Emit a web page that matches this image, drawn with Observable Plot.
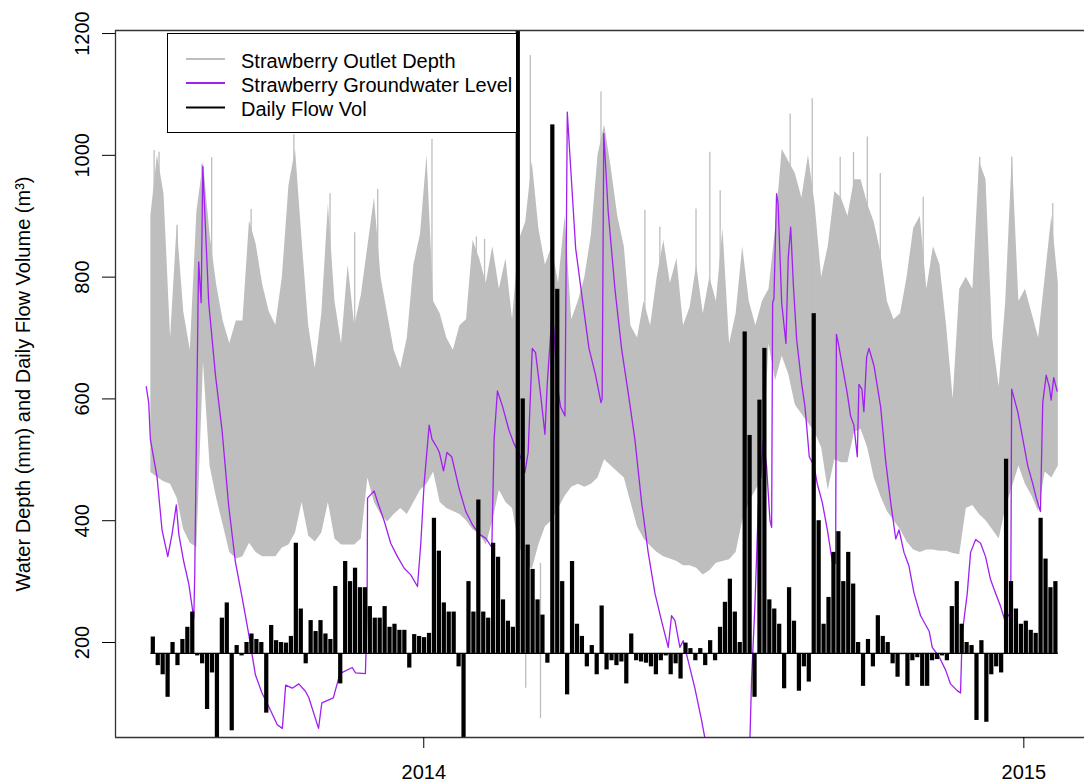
<!DOCTYPE html>
<html><head><meta charset="utf-8">
<script src="https://cdn.jsdelivr.net/npm/d3@7"></script>
<script src="https://cdn.jsdelivr.net/npm/@observablehq/plot@0.6"></script>
<style>
body{margin:0;background:#fff;font-family:"Liberation Sans",Arial,sans-serif;}
#wrap{position:relative;width:1084px;height:784px;overflow:hidden;}
#legend{position:absolute;left:167px;top:33px;width:350px;height:100px;background:#fff;border:1px solid #000;box-sizing:border-box;}
#legend svg{display:block;}
</style></head><body>
<div id="wrap"><div id="chart"></div><div id="legend"></div></div>
<script>
// ---- axis settings (days relative to 2014-01-01) ----
const xStartDay = -187.5, xEndDay = 401.9;
const yDomain = [44, 1205];
const yTicks = [200, 400, 600, 800, 1000, 1200];
const xTickYears = [2014, 2015];
const yTitle = "Water Depth (mm) and Daily Flow Volume (m³)";
const seriesNames = ["Strawberry Outlet Depth", "Strawberry Groundwater Level", "Daily Flow Vol"];
const seriesColors = ["#BEBEBE", "#A020F0", "#000000"];

// ---- Strawberry Outlet Depth: envelope sampled every 4 days from day -166 ----
const grayStartDay = -166, grayStepDays = 4;
const grayLow = [
 479,471,464,460,437,385,363,356,661,490,437,393,348,337,341,363,348,341,341,341,
 355,360,380,430,375,365,380,430,370,360,360,360,370,470,430,410,398,410,420,410,430,450,460,480,
 430,420,415,410,400,385,378,360,400,450,430,420,360,330,320,360,390,400,420,440,455,460,455,460,470,
 500,490,480,470,430,390,370,358,348,341,337,333,326,326,322,311,318,330,333,336,348,400,430,450,470,
 690,630,670,640,590,575,560,545,520,450,500,495,495,545,550,520,470,440,415,400,385,365,352,348,
 352,352,350,350,346,344,420,425,410,400,385,370,420,455,490,460,440,415,480,470,490];
const grayHigh = [
 900,1000,937,700,885,743,680,907,989,870,788,728,691,728,728,892,855,788,743,721,
 800,950,1010,860,720,650,740,920,760,690,820,720,770,850,930,800,740,680,650,700,820,870,1000,760,
 740,700,680,720,730,860,830,790,850,780,830,730,860,890,990,880,820,850,790,900,730,760,800,870,1000,
 1050,980,900,850,720,700,760,720,800,860,790,830,720,750,820,740,800,760,880,690,740,850,760,720,760,
 780,880,1010,990,970,930,1000,920,800,850,940,930,900,960,960,920,890,840,760,730,740,800,880,900,
 780,850,820,720,600,780,800,780,990,960,700,620,760,1000,760,780,740,700,800,900,790];
// isolated thin excursions of the outlet depth
const spikeDays = [-164,-161,-150,-135,-129,-105,-79,-57,-42,-28,5,32,37,64.8,107.8,134.5,143.6,165.6,174,180.3,222.9,236.3,253.3,261.4,269.8,277.7,303.8,338.2,357.7,382.6,62,71];
const spikeFrom = [600,600,600,700,600,600,600,600,600,600,600,600,600,600,700,600,600,600,600,600,700,700,700,700,700,700,600,600,600,600,330,330];
const spikeTo   = [1008,1005,885,985,996,911,1034,937,873,944,1026,866,862,1164,1104,910,882,912,1005,942,1068,1093,997,1005,1030,970,931,997,997,921,125,75];

// ---- Strawberry Groundwater Level ----
const gwDays = [-168.8,-167.3,-166.3,-162.2,-159.2,-155.7,-153.1,-150.5,-149,-146,-142.9,-139.9,-139.3,-138.5,-137.3,-136.9,-135.4,-134.4,-133.2,-130.8,
 -126.7,-122.7,-118.6,-114.6,-110.5,-106.5,-102.4,-98.4,-94.3,-89.1,-86,-84,-80,-76,-72,-70,-64,-62,-55,-51,-43.5,-41.5,-35.5,-34.5,-34.2,-30.2,-28,-24.1,-20.1,-16,
 -11.9,-7.9,-3.8,-1.8,0.2,3.3,5,8.3,9.5,12,14.1,17,21.6,25.6,29.7,33.7,37.8,41.4,42.8,44.8,48,51.8,54.8,58.9,61.5,63.5,66,68,71,73.7,
 75.1,77.7,79,81.2,83.2,85.9,87.3,89.3,92.4,96.4,100.5,104.5,107.8,108.5,109.5,112.2,116.3,120.3,124.4,128.4,132.5,136.5,140.6,144.6,148.7,150.7,152.8,155.8,157.8,160.9,
 164.9,169,175,196,198.4,199.4,201.4,203.5,206.5,208.5,210.6,211.6,212.2,213,214.6,215.5,217.7,220.3,221.7,223.2,224.8,226.8,229.9,231.9,234.5,237.4,239.4,242.4,245.5,248.5,
 250.5,251,252.2,257.6,259.6,261.6,263.7,264.7,266.5,267.7,269.4,270.8,273.9,277.9,281,284,287.1,289.1,292.1,295.1,298.2,302.2,307.5,309.3,313.4,317.4,320.4,324.5,326.5,327.5,
 330.6,332.6,335.7,338.7,341.7,344.8,347.8,350.9,353.5,357,357.6,361.3,364.4,367.4,370.5,372.5,375.1,376.5,378.6,380.5,381.6,383.2,385.2];
const gwLevel = [620,594,534,471,385,341,378,426,378,333,296,240,311,490,758,825,758,982,907,758,
 639,549,423,333,274,214,147,117,95,65,59,130,125,132,120,110,59,101,109,149,159,150,149,241,437,449,430,400,363,341,
 322,311,292,363,460,557,534,519,512,482,512,505,452,415,393,378,371,356,534,613,587,549,527,505,479,512,683,676,609,542,
 624,728,721,624,587,572,1071,982,847,765,683,639,594,600,1036,907,780,683,609,534,430,348,281,236,192,244,236,192,203,169,
 125,72,-15,-15,41,140,259,423,534,490,400,389,758,765,937,922,758,691,832,882,788,698,624,587,505,490,460,430,385,333,
 330,706,691,609,572,557,505,624,616,579,669,683,654,587,497,430,370,385,348,326,281,244,218,192,177,155,132,121,117,214,
 281,348,369,363,341,303,281,259,236,250,616,579,534,490,460,438,415,594,639,620,598,635,613];

// ---- Daily Flow Vol: one value every 3 days from day -166, drawn from its baseline ----
const flowBase = 182;
const flowStartDay = -166, flowStepDays = 3;
const flowVol = [
 209,162,147,110,200,162,205,225,250,178,165,90,150,44,240,265,55,195,178,200,214,205,200,84,228,203,
 200,199,210,363,255,165,236,218,236,214,205,292,132,333,300,322,290,290,259,240,240,259,225,230,220,220,158,213,210,208,215,404,350,
 265,250,250,160,44,300,250,434,250,240,363,340,270,235,225,1250,600,360,320,270,245,166,1050,780,300,114,333,230,210,160,195,147,260,
 155,170,162,168,132,214,170,168,166,160,147,170,178,147,165,140,199,190,170,190,162,203,170,225,266,304,250,200,710,540,110,598,683,
 270,255,230,124,290,235,120,160,135,740,400,230,274,348,382,300,348,296,200,128,205,160,244,210,200,165,143,180,128,170,175,128,
 128,170,172,178,170,259,300,230,200,195,72,203,69,147,160,150,501,300,255,230,235,220,215,404,337,290,300];

// ---- build tables ----
const T0 = Date.UTC(2014, 0, 1), DAY = 864e5;
const toDate = d => new Date(T0 + d * DAY);
const grayTable = grayLow.map((lo, i) => ({date: toDate(grayStartDay + i * grayStepDays), low: lo, high: grayHigh[i]}));
const spikeTable = spikeDays.map((d, i) => ({date: toDate(d), from: spikeFrom[i], to: spikeTo[i]}));
const gwTable = gwDays.map((d, i) => ({date: toDate(d), v: gwLevel[i]}));
const flowTable = flowVol.map((v, i) => {
  const d = flowStartDay + i * flowStepDays;
  return {date: toDate(d), date2: toDate(d + flowStepDays), base: flowBase, v};
});
const flowFirst = toDate(flowStartDay), flowLast = toDate(flowStartDay + flowVol.length * flowStepDays);
const xTicks = xTickYears.map(y => new Date(Date.UTC(y, 0, 1)));
const FONT = "Liberation Sans, Arial, Helvetica, sans-serif";

const chart = Plot.plot({
  width: 1084, height: 784,
  marginTop: 30, marginBottom: 47, marginLeft: 115, marginRight: 0,
  style: {fontFamily: FONT, background: "#fff", color: "#000", overflow: "visible"},
  x: {type: "utc", domain: [toDate(xStartDay), toDate(xEndDay)]},
  y: {domain: yDomain},
  marks: [
    Plot.areaY(grayTable, {x: "date", y1: "low", y2: "high", fill: seriesColors[0], clip: true}),
    Plot.ruleX(spikeTable, {x: "date", y1: "from", y2: "to", stroke: seriesColors[0], strokeWidth: 1.3, clip: true}),
    Plot.line(gwTable, {x: "date", y: "v", stroke: seriesColors[1], strokeWidth: 1.3, clip: true}),
    Plot.rect(flowTable, {x1: "date", x2: "date2", y1: "base", y2: "v", fill: seriesColors[2], insetLeft: 0.35, insetRight: 0.35, clip: true}),
    Plot.ruleY([flowBase], {x1: flowFirst, x2: flowLast, stroke: "#000", strokeWidth: 1.3}),
    Plot.ruleY([yDomain[1], yDomain[0]], {stroke: "#333", strokeWidth: 1.3}),
    Plot.ruleX([toDate(xStartDay)], {stroke: "#333", strokeWidth: 1.3}),
    Plot.axisX({ticks: xTicks, tickFormat: d => String(d.getUTCFullYear()), tickSize: 11, tickPadding: 16, fontSize: 20, label: null}),
    Plot.axisY({ticks: yTicks, tickSize: 13, tickFormat: () => "", label: null}),
    Plot.text(yTicks, {y: d => d, text: d => String(d), frameAnchor: "left", dx: -27, rotate: -90, textAnchor: "middle", lineAnchor: "bottom", fontSize: 20}),
    Plot.text([yTitle], {frameAnchor: "left", dx: -92, rotate: -90, textAnchor: "middle", lineAnchor: "middle", fontSize: 20})
  ]
});
document.getElementById("chart").appendChild(chart);

// legend (inside the plot area, top-left)
const lg = d3.select("#legend").append("svg").attr("width", 348).attr("height", 98)
  .style("font-family", FONT).style("font-size", "20px");
const rowsY = [25, 49, 73.5];
seriesNames.forEach((name, i) => {
  lg.append("line").attr("x1", 18).attr("x2", 57).attr("y1", rowsY[i]).attr("y2", rowsY[i])
    .attr("stroke", seriesColors[i]).attr("stroke-width", 2);
  lg.append("text").attr("x", 73).attr("y", rowsY[i] + 1.5).attr("dominant-baseline", "central")
    .attr("fill", "#000").text(name);
});
</script>
</body></html>
